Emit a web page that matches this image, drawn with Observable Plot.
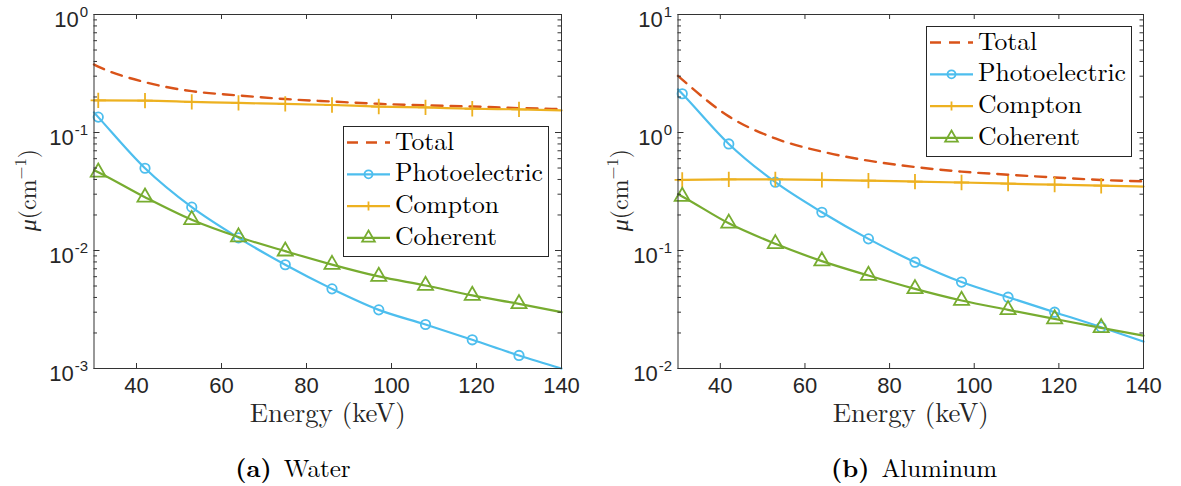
<!DOCTYPE html>
<html><head><meta charset="utf-8">
<script src="https://cdn.jsdelivr.net/npm/d3@7"></script>
<script src="https://cdn.jsdelivr.net/npm/@observablehq/plot@0.6"></script>
<style>
html,body{margin:0;padding:0;background:#fff;}
#fig{position:relative;width:1181px;height:486px;overflow:hidden;background:#fff;}
.panel{position:absolute;top:0;}
.ylab{position:absolute;color:#262626;white-space:nowrap;transform:translate(-50%,-50%) rotate(-90deg);line-height:1;}
.cap{position:absolute;color:#000;white-space:nowrap;transform:translateX(-50%);line-height:1;}
.legend{position:absolute;background:#fff;border:1px solid #262626;box-sizing:border-box;}
</style></head><body><div id="fig"></div>
<script>
// ---- data ----
const energy = [30, 31, 42, 53, 64, 75, 86, 97, 108, 119, 130, 140];
const markerEnergy = [31, 42, 53, 64, 75, 86, 97, 108, 119, 130];
const seriesNames = ["Total", "Photoelectric", "Compton", "Coherent"];

const waterTotal = [0.377, 0.362, 0.267, 0.224, 0.206, 0.192, 0.183, 0.175, 0.170, 0.166, 0.161, 0.158];
const waterPhoto = [0.148, 0.135, 0.0498, 0.0233, 0.0128, 0.00757, 0.00473, 0.00314, 0.00236, 0.00175, 0.00129, 0.00100];
const waterCompton = [0.187, 0.187, 0.186, 0.182, 0.178, 0.175, 0.171, 0.166, 0.163, 0.159, 0.157, 0.154];
const waterCoherent = [0.048, 0.0461, 0.0283, 0.0182, 0.0130, 0.00987, 0.0076, 0.00603, 0.00505, 0.00416, 0.00353, 0.0030];

const alTotal = [3.02, 2.81, 1.37, 0.89, 0.689, 0.577, 0.51, 0.466, 0.439, 0.416, 0.396, 0.386];
const alPhoto = [2.32, 2.13, 0.80, 0.379, 0.211, 0.1255, 0.0796, 0.054, 0.0402, 0.030, 0.0224, 0.0169];
const alCompton = [0.394, 0.396, 0.401, 0.400, 0.397, 0.391, 0.384, 0.377, 0.369, 0.361, 0.354, 0.348];
const alCoherent = [0.30, 0.287, 0.170, 0.114, 0.0813, 0.0614, 0.0473, 0.0377, 0.0314, 0.0263, 0.0221, 0.019];

const xTicks = [40, 60, 80, 100, 120, 140];
const waterDecades = [1e-3, 1e-2, 1e-1, 1];
const alDecades = [1e-2, 1e-1, 1, 10];
const xLabel = "Energy (keV)";
const captions = [["(a)", "Water"], ["(b)", "Aluminum"]];

const colors = {Total: "#D95319", Photoelectric: "#4DBEEE", Compton: "#EDB120", Coherent: "#77AC30"};
const sans = "Liberation Sans, Arial, Helvetica, sans-serif";
const axisColor = "#333333";
const textColor = "#262626";

// pick an installed serif face (measured against monospace fallback)
const ctx = document.createElement("canvas").getContext("2d");
function hasFont(name) {
  const probe = "Wmlli Photoelectric 0123";
  for (const base of ["monospace", "sans-serif"]) {
    ctx.font = `72px ${base}`;
    const w0 = ctx.measureText(probe).width;
    ctx.font = `72px '${name}', ${base}`;
    if (Math.abs(ctx.measureText(probe).width - w0) > 0.5) return true;
  }
  return false;
}
const serifCandidates = ["CMU Serif", "Latin Modern Roman", "Liberation Serif", "DejaVu Serif", "Noto Serif",
  "Times New Roman", "Times", "Tinos", "FreeSerif", "Nimbus Roman", "Nimbus Roman No9 L", "TeX Gyre Termes",
  "Georgia", "Bitstream Vera Serif", "Droid Serif", "Source Serif Pro", "PT Serif", "Noto Serif CJK SC"];
const foundSerif = serifCandidates.find(hasFont);
const serif = foundSerif ? `'${foundSerif}', serif` : "serif";

function fitSize(text, target, weight = "normal", style = "normal") {
  ctx.font = `${style} ${weight} 100px ${serif}`;
  return 100 * target / ctx.measureText(text).width;
}
const legendSize = fitSize("Photoelectric", 148);
const xLabelSize = fitSize(xLabel, 156);
const captionSize = fitSize("Water", 67);
const yLabelSize = fitSize("(cm)", 49);

const panels = [
  {left: 0, width: 590, marginLeft: 93.5, marginRight: 29, domain: [1e-3, 1], decades: waterDecades,
   values: [waterTotal, waterPhoto, waterCompton, waterCoherent],
   legend: {left: 343, top: 126}, caption: {center: 293, idx: 0}, ylabelX: 27},
  {left: 590, width: 591, marginLeft: 87.5, marginRight: 38, domain: [1e-2, 10], decades: alDecades,
   values: [alTotal, alPhoto, alCompton, alCoherent],
   legend: {left: 926, top: 26}, caption: {center: 914, idx: 1}, ylabelX: 619}
];

const fig = document.getElementById("fig");

function panelPlot(cfg) {
  const H = 440, mt = 14, mb = 72;
  const plotW = cfg.width - cfg.marginLeft - cfg.marginRight;
  const plotH = H - mt - mb;
  const rows = [];
  seriesNames.forEach((s, i) => energy.forEach((e, j) => rows.push({series: s, energy: e, value: cfg.values[i][j]})));
  const markRows = rows.filter(r => markerEnergy.includes(r.energy));
  const of = s => rows.filter(r => r.series === s);
  const mof = s => markRows.filter(r => r.series === s);
  const minors = [];
  for (const d of cfg.decades.slice(0, -1)) for (let k = 2; k <= 9; k++) minors.push(d * k);
  const posDec = cfg.decades.filter(d => Math.log10(d) >= -1e-9);
  const negDec = cfg.decades.filter(d => Math.log10(d) < -1e-9);
  const tk = {stroke: axisColor, strokeWidth: 1};
  return Plot.plot({
    width: cfg.width, height: H, marginTop: mt, marginBottom: mb,
    marginLeft: cfg.marginLeft, marginRight: cfg.marginRight,
    x: {domain: [30, 140], axis: null},
    y: {type: "log", domain: cfg.domain, axis: null},
    style: {background: "transparent", overflow: "visible"},
    marks: [
      Plot.line(of("Total"), {x: "energy", y: "value", stroke: colors.Total, strokeWidth: 2.4, strokeDasharray: "11,8", curve: "monotone-x"}),
      ...["Photoelectric", "Compton", "Coherent"].map(s =>
        Plot.line(of(s), {x: "energy", y: "value", stroke: colors[s], strokeWidth: 2.2, curve: "monotone-x"})),
      Plot.dot(mof("Photoelectric"), {x: "energy", y: "value", symbol: "circle", r: 4.7, fill: "none", stroke: colors.Photoelectric, strokeWidth: 1.8}),
      Plot.dot(mof("Compton"), {x: "energy", y: "value", symbol: "plus", r: 5, fill: "none", stroke: colors.Compton, strokeWidth: 1.8}),
      Plot.dot(mof("Coherent"), {x: "energy", y: "value", symbol: "triangle", r: 5.6, fill: "none", stroke: colors.Coherent, strokeWidth: 1.8}),
      Plot.frame({stroke: axisColor, strokeWidth: 1}),
      Plot.ruleX(xTicks, {x: d => d, insetTop: plotH - 5, ...tk}),
      Plot.ruleX(xTicks, {x: d => d, insetBottom: plotH - 5, ...tk}),
      Plot.ruleY(cfg.decades, {y: d => d, insetRight: plotW - 6, ...tk}),
      Plot.ruleY(cfg.decades, {y: d => d, insetLeft: plotW - 6, ...tk}),
      Plot.ruleY(minors, {y: d => d, insetRight: plotW - 3.5, ...tk}),
      Plot.ruleY(minors, {y: d => d, insetLeft: plotW - 3.5, ...tk}),
      Plot.text(xTicks, {x: d => d, text: d => String(d), frameAnchor: "bottom", dy: 24, fontSize: 22, fontFamily: sans, fill: textColor}),
      Plot.text(posDec, {y: d => d, text: () => "10", frameAnchor: "left", textAnchor: "end", dx: -15.3, dy: 5, fontSize: 22, fontFamily: sans, fill: textColor}),
      Plot.text(negDec, {y: d => d, text: () => "10", frameAnchor: "left", textAnchor: "end", dx: -20.3, dy: 5, fontSize: 22, fontFamily: sans, fill: textColor}),
      Plot.text(cfg.decades, {y: d => d, text: d => String(Math.round(Math.log10(d))), frameAnchor: "left", textAnchor: "end", dx: -6, dy: -2.5, fontSize: 15, fontFamily: sans, fill: textColor}),
      Plot.text([xLabel], {text: d => d, frameAnchor: "bottom", dy: 53, fontSize: xLabelSize, fontFamily: serif, fill: textColor})
    ]
  });
}

function legendBox(cfg) {
  const W = 206, Hh = 131;
  const div = document.createElement("div");
  div.className = "legend";
  Object.assign(div.style, {left: cfg.legend.left + "px", top: cfg.legend.top + "px", width: W + "px", height: Hh + "px"});
  const svg = d3.create("svg").attr("width", W - 2).attr("height", Hh - 2).style("display", "block").style("overflow", "visible");
  seriesNames.forEach((s, i) => {
    const y = 15.5 + i * 31.8;
    const g = svg.append("g");
    const ln = g.append("line").attr("x1", 3).attr("x2", 46).attr("y1", y).attr("y2", y)
      .attr("stroke", colors[s]).attr("stroke-width", s === "Total" ? 2.4 : 2.2);
    if (s === "Total") ln.attr("stroke-dasharray", "11,8");
    const cx = 24.5;
    if (s === "Photoelectric") g.append("circle").attr("cx", cx).attr("cy", y).attr("r", 4).attr("fill", "none").attr("stroke", colors[s]).attr("stroke-width", 1.8);
    if (s === "Compton") g.append("path").attr("d", `M${cx-4.5},${y}H${cx+4.5}M${cx},${y-4.5}V${y+4.5}`).attr("stroke", colors[s]).attr("stroke-width", 1.8);
    if (s === "Coherent") g.append("path").attr("d", d3.symbol(d3.symbolTriangle, 70)()).attr("transform", `translate(${cx},${y})`).attr("fill", "none").attr("stroke", colors[s]).attr("stroke-width", 1.8);
    g.append("text").attr("x", 51).attr("y", y + 7).text(s)
      .attr("font-family", serif).attr("font-size", legendSize).attr("fill", "#000");
  });
  div.appendChild(svg.node());
  return div;
}

panels.forEach(cfg => {
  const holder = document.createElement("div");
  holder.className = "panel";
  holder.style.left = cfg.left + "px";
  holder.appendChild(panelPlot(cfg));
  fig.appendChild(holder);

  const yl = document.createElement("div");
  yl.className = "ylab";
  yl.style.fontFamily = serif;
  yl.style.fontSize = yLabelSize + "px";
  yl.style.left = cfg.ylabelX + "px";
  yl.style.top = "190px";
  yl.innerHTML = '<i>μ</i>(cm<span style="font-size:0.7em;position:relative;top:-0.6em">−1</span>)';
  fig.appendChild(yl);

  fig.appendChild(legendBox(cfg));

  const cap = document.createElement("div");
  cap.className = "cap";
  cap.style.fontFamily = serif;
  cap.style.fontSize = captionSize + "px";
  cap.style.left = cfg.caption.center + "px";
  cap.style.top = "454px";
  const [lab, name] = captions[cfg.caption.idx];
  cap.innerHTML = `<b>${lab}</b><span style="margin-left:12px">${name}</span>`;
  fig.appendChild(cap);
});
</script>
</body></html>
